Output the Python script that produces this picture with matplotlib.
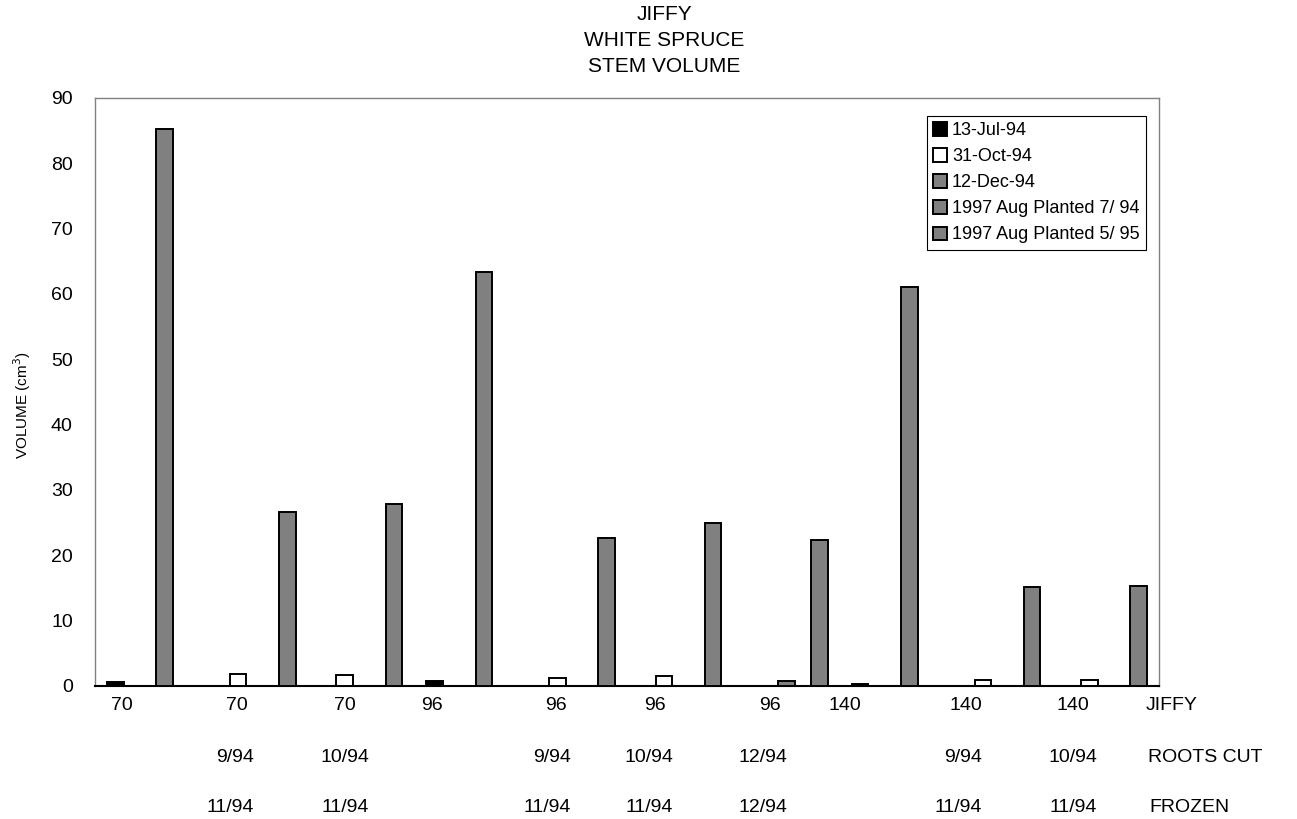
import numpy as np
import matplotlib
matplotlib.use('Agg')
import matplotlib.pyplot as plt

plt.rcParams.update({
    'font.family': ['Liberation Sans', 'DejaVu Sans'],
    'font.size': 14,
})

# --- datos (NaN = sin barra) ---
nan = np.nan
series_names = ['13-Jul-94', '31-Oct-94', '12-Dec-94',
                '1997 Aug Planted 7/ 94', '1997 Aug Planted 5/ 95']
jul94 = [0.55, nan, nan, 0.75, nan, nan, nan, 0.35, nan, nan]
oct94 = [nan, 1.8, 1.7, nan, 1.25, 1.6, nan, nan, 0.95, 0.95]
dec94 = [nan, nan, nan, nan, nan, nan, 0.8, nan, nan, nan]
aug97_p794 = [85.3, nan, nan, 63.3, nan, nan, nan, 61.0, nan, nan]
aug97_p595 = [nan, 26.6, 27.8, nan, 22.6, 24.9, 22.4, nan, 15.1, 15.3]

jiffy_lbl = ['70', '70', '70', '96', '96', '96', '96', '140', '140', '140']
roots_lbl = ['', '9/94', '10/94', '', '9/94', '10/94', '12/94', '', '9/94', '10/94']
frozen_lbl = ['', '11/94', '11/94', '', '11/94', '11/94', '12/94', '', '11/94', '11/94']

# posición (px, borde derecho) de las etiquetas de cada fila
row1_px = [133, 248, 356, 443, 567, 666, 781, 861, 982, 1089]
row23_px = [0, 254, 369, 0, 571, 673, 787, 0, 982, 1097]

COLORS = ['#000000', '#FFFFFF', '#808080', '#808080', '#808080']

W, H = 1297, 819
fig = plt.figure(figsize=(W / 100, H / 100), dpi=100)
ax = fig.add_axes([95 / W, 1 - 686 / H, 1064 / W, 588 / H])

data = [jul94, oct94, dec94, aug97_p794, aug97_p595]
n_cat = len(jiffy_lbl)
x = np.arange(n_cat)
bw = 1 / (5 + 1.5)   # ancho de barra con gap de 150 %
for k, (vals, col, name) in enumerate(zip(data, COLORS, series_names)):
    ax.bar(x + (k - 2) * bw, vals, bw, color=col, edgecolor='black',
           linewidth=1.4, label=name, zorder=3)

ax.set_xlim(-0.5, n_cat - 0.5)
ax.set_ylim(0, 90)
ax.set_yticks(np.arange(0, 91, 10))
ax.set_xticks([])
ax.tick_params(axis='y', length=0, pad=16, labelsize=14)
for s in ['top', 'right', 'left']:
    ax.spines[s].set_color('#808080')
    ax.spines[s].set_linewidth(1.0)
ax.spines['bottom'].set_color('black')
ax.spines['bottom'].set_linewidth(1.5)

leg = ax.legend(loc='upper right', bbox_to_anchor=(1146 / W, 1 - 116 / H),
                bbox_transform=fig.transFigure, fontsize=13,
                handlelength=0.75, handleheight=0.75, handletextpad=0.3,
                labelspacing=0.5, borderpad=0.35, borderaxespad=0,
                fancybox=False, framealpha=1, edgecolor='black')
leg.get_frame().set_linewidth(0.8)

# etiquetas de categoría en tres filas
for i in range(n_cat):
    fig.text(row1_px[i] / W, 1 - 705 / H, jiffy_lbl[i], ha='right',
             va='center', fontsize=14)
    if roots_lbl[i]:
        fig.text(row23_px[i] / W, 1 - 757 / H, roots_lbl[i], ha='right',
                 va='center', fontsize=14)
        fig.text(row23_px[i] / W, 1 - 807 / H, frozen_lbl[i], ha='right',
                 va='center', fontsize=14)
fig.text(1146 / W, 1 - 705 / H, 'JIFFY', ha='left', va='center', fontsize=14)
fig.text(1148 / W, 1 - 757 / H, 'ROOTS CUT', ha='left', va='center', fontsize=14)
fig.text(1149 / W, 1 - 807 / H, 'FROZEN', ha='left', va='center', fontsize=14)

# título y eje y
for txt, yp in zip(['JIFFY', 'WHITE SPRUCE', 'STEM VOLUME'], [15, 41, 67]):
    fig.text(664 / W, 1 - yp / H, txt, ha='center', va='center', fontsize=15)
fig.text(22 / W, 1 - 405 / H, 'VOLUME (cm$^3$)', rotation=90,
         ha='center', va='center', fontsize=11)

fig.savefig('out.png', dpi=100, facecolor='white')
